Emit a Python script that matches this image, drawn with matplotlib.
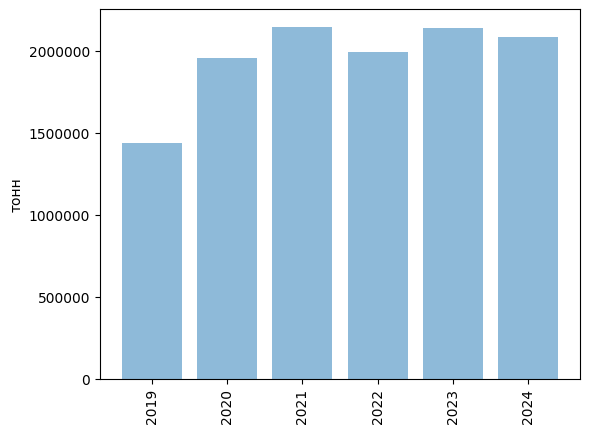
import matplotlib
matplotlib.use('Agg')
import matplotlib.pyplot as plt

years = ['2019', '2020', '2021', '2022', '2023', '2024']
tonnes = [1441000, 1959000, 2148000, 1996000, 2142000, 2087000]

fig = plt.figure(figsize=(6.07, 4.34), dpi=100)
ax = fig.add_axes([0.1647, 0.126, 0.7908, 0.8526])
ax.bar(years, tonnes, alpha=0.5)
ax.set_ylabel('тонн')
ax.ticklabel_format(axis='y', style='plain')
plt.xticks(rotation=90)

fig.savefig('out.png', dpi=100)
